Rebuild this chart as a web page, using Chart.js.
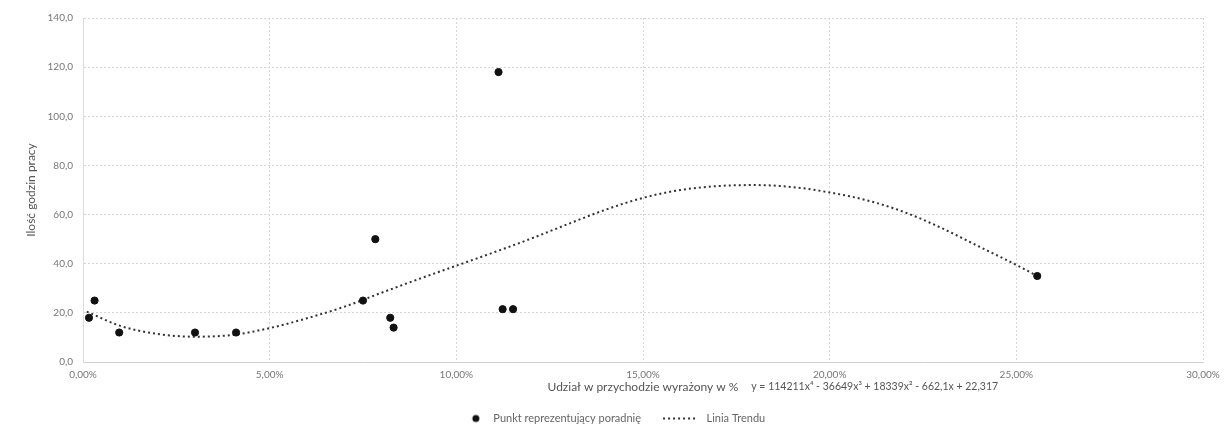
<!DOCTYPE html>
<html>
<head>
<meta charset="utf-8">
<script src="https://cdn.jsdelivr.net/npm/chart.js@4"></script>
<style>
  html, body { margin: 0; padding: 0; background: #fff; }
  #wrap { width: 1228px; height: 438px; }
</style>
</head>
<body>
<div id="wrap"><canvas id="chart" width="1228" height="438"></canvas></div>
<script>
// punkty (udział w przychodzie w %, ilość godzin)
var pointX = [0.16, 0.31, 0.97, 3.0, 4.1, 7.5, 7.83, 8.23, 8.32, 11.13, 11.24, 11.52, 25.56];
var pointY = [18, 25, 12, 12, 12, 25, 50, 18, 14, 118, 21.5, 21.5, 35];

// linia trendu
var trendX = [0.1, 1, 2, 3, 4, 5, 6, 7, 8, 9, 10, 11, 12, 13, 14, 15, 16, 17, 18, 19, 20, 21, 22, 23, 24, 25, 25.56];
var trendY = [20.5, 14.7, 11.4, 10.3, 11.0, 13.8, 17.8, 22.5, 28.2, 33.8, 39.2, 44.6, 50.2, 56.2, 62, 66.8, 70, 71.6, 72, 71.2, 69, 65.8, 61, 54.5, 47, 39.5, 35];

var xTicks = [0, 5, 10, 15, 20, 25, 30];
var yTicks = [0, 20, 40, 60, 80, 100, 120, 140];

var seriesNames = ['Punkt reprezentujący poradnię', 'Linia Trendu'];
var xTitle = 'Udział w przychodzie wyrażony w %';
var yTitle = 'Ilość godzin pracy';
var equation = 'y = 114211x⁴ - 36649x³ + 18339x² - 662,1x + 22,317';

var FONT = 'Lato, "Open Sans", sans-serif';

function zip(xs, ys) {
    return xs.map(function (x, i) { return { x: x, y: ys[i] }; });
}

// ikonki legendy (obie tej samej szerokosci)
var ICON_W = 50;
function dotIcon() {
    var c = document.createElement('canvas');
    c.width = ICON_W; c.height = 10;
    var g = c.getContext('2d');
    g.fillStyle = '#111';
    g.beginPath();
    g.arc(ICON_W - 12, 5, 3.5, 0, Math.PI * 2);
    g.fill();
    return c;
}
function dottedIcon() {
    var c = document.createElement('canvas');
    c.width = ICON_W; c.height = 10;
    var g = c.getContext('2d');
    g.fillStyle = '#333';
    for (var i = 0; i < 7; i++) {
        g.fillRect(ICON_W - 38 + i * 5, 4, 2, 2);
    }
    return c;
}
var icons = [dotIcon(), dottedIcon()];

var equationLabel = {
    id: 'equationLabel',
    afterDraw: function (chart) {
        var ctx = chart.ctx;
        var x = chart.scales.x.getPixelForValue(17.9);
        var y = chart.chartArea.bottom + 25;
        ctx.save();
        ctx.font = '10.5px ' + FONT;
        ctx.fillStyle = '#555';
        ctx.textAlign = 'left';
        ctx.textBaseline = 'middle';
        ctx.fillText(equation, x, y);
        ctx.restore();
    }
};

var gridStyle = {
    color: '#d6d6d6',
    lineWidth: 1,
    drawTicks: false
};

var ctx = document.getElementById('chart');
new Chart(ctx, {
    type: 'scatter',
    data: {
        datasets: [{
            label: seriesNames[0],
            data: zip(pointX, pointY),
            pointRadius: 3.6,
            pointHoverRadius: 3.6,
            pointBackgroundColor: '#111',
            pointBorderColor: '#111',
            showLine: false,
            order: 0
        },
        {
            label: seriesNames[1],
            data: zip(trendX, trendY),
            showLine: true,
            pointRadius: 0,
            borderColor: '#333',
            borderWidth: 2,
            borderDash: [2, 3],
            tension: 0.4,
            cubicInterpolationMode: 'monotone',
            fill: false,
            order: 1
        }]
    },
    options: {
        responsive: false,
        animation: false,
        layout: { padding: { left: 0, right: 25, top: 18, bottom: 4 } },
        plugins: {
            tooltip: { enabled: false },
            legend: {
                position: 'bottom',
                labels: {
                    usePointStyle: true,
                    pointStyleWidth: ICON_W,
                    boxHeight: 10,
                    padding: 10,
                    color: '#666',
                    font: { family: FONT, size: 11 },
                    generateLabels: function (chart) {
                        var items = Chart.defaults.plugins.legend.labels.generateLabels(chart);
                        items.forEach(function (it, i) { it.pointStyle = icons[i]; });
                        return items;
                    }
                }
            }
        },
        scales: {
            x: {
                type: 'linear',
                min: 0,
                max: 30,
                afterBuildTicks: function (s) { s.ticks = xTicks.map(function (v) { return { value: v }; }); },
                afterFit: function (s) { s.height = 41; },
                grid: gridStyle,
                border: { display: true, color: '#cfcfcf', dash: [2, 2] },
                ticks: {
                    padding: 7,
                    maxRotation: 0,
                    color: '#777',
                    font: { family: FONT, size: 10 },
                    callback: function (v) { return v.toFixed(2).replace('.', ',') + '%'; }
                },
                title: {
                    display: true,
                    text: xTitle,
                    color: '#555',
                    padding: { top: 0, bottom: 9 },
                    font: { family: FONT, size: 12 }
                }
            },
            y: {
                min: 0,
                max: 140,
                afterBuildTicks: function (s) { s.ticks = yTicks.map(function (v) { return { value: v }; }); },
                afterFit: function (s) { s.width = 83; },
                grid: gridStyle,
                border: { display: true, color: '#dcdcdc', dash: [2, 2] },
                ticks: {
                    padding: 10,
                    color: '#777',
                    font: { family: FONT, size: 10 },
                    callback: function (v) { return v.toFixed(1).replace('.', ','); }
                },
                title: {
                    display: true,
                    text: yTitle,
                    color: '#555',
                    padding: { top: 24, bottom: 0 },
                    font: { family: FONT, size: 12 }
                }
            }
        }
    },
    plugins: [equationLabel]
});
</script>
</body>
</html>
